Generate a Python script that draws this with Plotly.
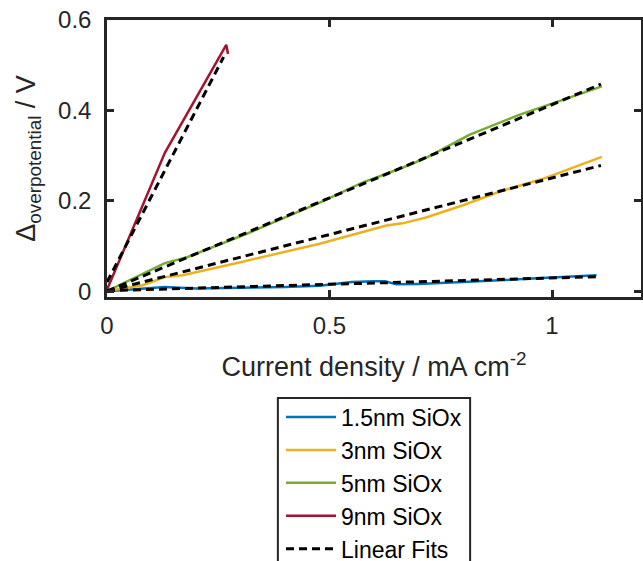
import plotly.graph_objects as go

# ---- data ----
x_15 = [0, 0.05, 0.13, 0.2, 0.3, 0.4, 0.478, 0.55, 0.6, 0.625, 0.65, 0.7, 0.8, 0.9, 1.0, 1.1]
y_15 = [0, 0.004, 0.009, 0.006, 0.007, 0.009, 0.012, 0.02, 0.022, 0.022, 0.015, 0.016, 0.02, 0.025, 0.03, 0.035]

x_3 = [0, 0.08, 0.13, 0.17, 0.3, 0.478, 0.628, 0.664, 0.717, 0.8, 0.888, 0.978, 1.112]
y_3 = [0, 0.013, 0.031, 0.035, 0.064, 0.105, 0.145, 0.15, 0.163, 0.19, 0.222, 0.248, 0.297]

x_5 = [0, 0.13, 0.18, 0.314, 0.478, 0.574, 0.664, 0.717, 0.814, 0.926, 1.0, 1.112]
y_5 = [0, 0.062, 0.075, 0.127, 0.196, 0.24, 0.273, 0.295, 0.346, 0.39, 0.415, 0.453]

x_9 = [0, 0.13, 0.268, 0.272]
y_9 = [0.003, 0.306, 0.545, 0.525]

fit_15_x = [0, 1.1]
fit_15_y = [0.001, 0.032]
fit_3_x = [0, 1.11]
fit_3_y = [0, 0.278]
fit_5_x = [0, 1.11]
fit_5_y = [0, 0.458]
fit_9_x = [0, 0.262]
fit_9_y = [0.02, 0.518]

labels = ["1.5nm SiOx", "3nm SiOx", "5nm SiOx", "9nm SiOx"]
colors = ["#0072BD", "#EDB120", "#77AC30", "#A2142F"]
fit_label = "Linear Fits"

x_ticks = [0, 0.5, 1]
x_ticktext = ["0", "0.5", "1"]
y_ticks = [0, 0.2, 0.4, 0.6]
y_ticktext = ["0", "0.2", "0.4", "0.6"]

FONT = "Liberation Sans, Arial, Helvetica, sans-serif"
AX = "#262626"

fig = go.Figure()
series = [(x_15, y_15), (x_3, y_3), (x_5, y_5), (x_9, y_9)]
for (xs, ys), lab, col in zip(series, labels, colors):
    fig.add_trace(go.Scatter(x=xs, y=ys, mode="lines", name=lab,
                             line=dict(color=col, width=2.5),
                             legendgroup=lab))

fits = [(fit_15_x, fit_15_y), (fit_3_x, fit_3_y), (fit_5_x, fit_5_y), (fit_9_x, fit_9_y)]
for i, (xs, ys) in enumerate(fits):
    fig.add_trace(go.Scatter(x=xs, y=ys, mode="lines", name=fit_label,
                             line=dict(color="black", width=3, dash="8px,5px"),
                             legendgroup="fits", showlegend=(i == 0)))

axis_common = dict(
    showline=True, linewidth=2.5, linecolor=AX, mirror="ticks",
    ticks="inside", ticklen=7, tickwidth=2.5, tickcolor=AX,
    showgrid=False, zeroline=False, automargin=False,
    tickfont=dict(family=FONT, size=24, color=AX),
)

# legend frame (box outline, open at the bottom edge of the page like the reference)
fig.add_shape(type="rect", xref="paper", yref="paper",
              x0=0.320, x1=0.680, y0=-1.2, y1=-0.3646,
              line=dict(color=AX, width=2), fillcolor="white", layer="above")

fig.update_layout(
    width=643, height=561,
    margin=dict(l=107, r=2, t=20, b=264, autoexpand=False),
    plot_bgcolor="white", paper_bgcolor="white",
    font=dict(family=FONT, color=AX),
    xaxis=dict(range=[0, 1.2], tickvals=x_ticks, ticktext=x_ticktext,
               ticklabelstandoff=5,
               title=dict(text="Current density / mA cm<sup>-2</sup>",
                          font=dict(family=FONT, size=27, color=AX), standoff=20),
               **axis_common),
    yaxis=dict(range=[-0.013, 0.6], tickvals=y_ticks, ticktext=y_ticktext,
               ticklabelstandoff=8,
               title=dict(text="\u0394<sub>overpotential</sub> / V",
                          font=dict(family=FONT, size=27, color=AX), standoff=15),
               **axis_common),
    legend=dict(x=0.5, xanchor="center", y=-0.356, yanchor="top",
                borderwidth=0, bgcolor="rgba(0,0,0,0)",
                font=dict(family=FONT, size=23, color="black"),
                itemwidth=50, tracegroupgap=0),
    showlegend=True,
)

fig.write_html("out.html", config={"displayModeBar": False},
               post_script="document.body.style.margin='0';document.body.style.padding='0';")
